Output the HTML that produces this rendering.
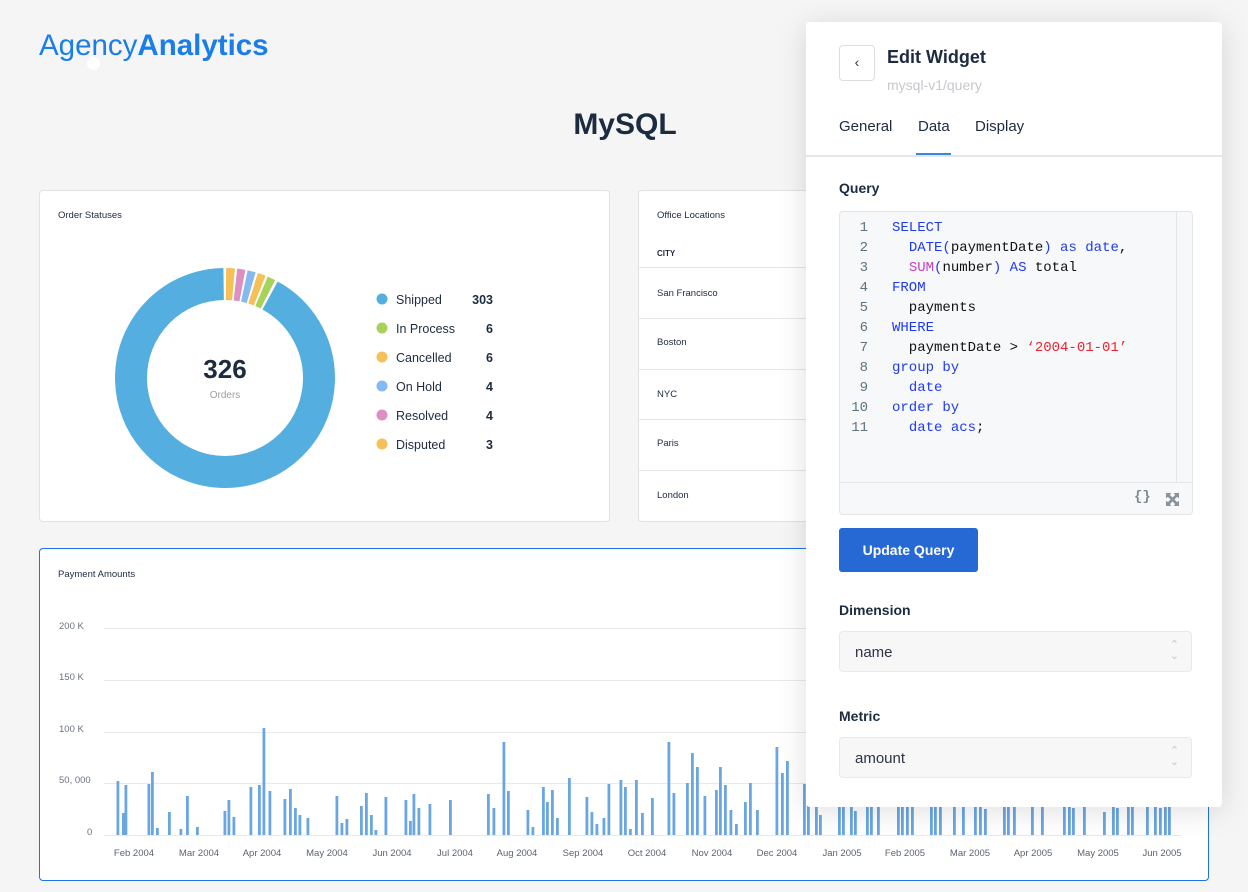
<!DOCTYPE html>
<html><head><meta charset="utf-8"><style>
*{margin:0;padding:0;box-sizing:border-box}
body{width:1248px;height:892px;background:#f5f5f6;font-family:"Liberation Sans",sans-serif;color:#1c2b3f;position:relative;overflow:hidden}
.abs{position:absolute}
.card{position:absolute;background:#fff;border:1px solid #dfe1e4;border-radius:4px}
.ct{position:absolute;font-size:9.5px;color:#1c2b3f}
.row{position:absolute;left:0;right:0;border-top:1px solid #e3e5e8}
.city{position:absolute;left:18px;font-size:9.5px}
.panel{position:absolute;left:806px;top:22px;width:416px;height:785px;background:#fff;border-radius:4px;box-shadow:0 4px 30px rgba(0,0,0,.13)}
.code{font-family:"Liberation Mono",monospace;font-size:14px;position:absolute;white-space:pre;line-height:20px}
.kw{color:#1f3bf0}.fn{color:#c33fc3}.st{color:#ee2230}
.lbl{position:absolute;left:33px;font-size:14px;font-weight:bold}
.sel{position:absolute;left:33px;width:353px;height:41px;background:#f7f7f8;border:1px solid #e8e9eb;border-radius:4px;font-size:15px;color:#2a3445;padding:12px 0 0 15px}
.arr{position:absolute;right:12px;top:8px;color:#c4c7cb;font-size:11px;line-height:11px;text-align:center}
</style></head><body>
<div class="abs" style="left:39px;top:29px;font-size:29.5px;color:#1a7ee8;letter-spacing:0"><span style="font-weight:300">Agency</span><b>Analytics</b></div>
<div class="abs" style="left:87px;top:57px;width:13px;height:13px;border-radius:50%;background:#fff"></div>
<div class="abs" style="left:540px;top:108px;width:170px;text-align:center;font-size:30px;font-weight:bold">MySQL</div>

<div class="card" style="left:39px;top:190px;width:571px;height:332px">
<div class="ct" style="left:18px;top:19px">Order Statuses</div>
</div>
<svg class="abs" style="left:0;top:0" width="620" height="540">
<g transform="rotate(-90 225 378)" fill="none" stroke-width="32">
<circle cx="225" cy="378" r="94" stroke="#55aee0" stroke-dasharray="542 60" stroke-dashoffset="-47"/>
<circle cx="225" cy="378" r="94" stroke="#f5c058" stroke-dasharray="7.5 600" stroke-dashoffset="-1"/>
<circle cx="225" cy="378" r="94" stroke="#dd8fc0" stroke-dasharray="7 600" stroke-dashoffset="-10.5"/>
<circle cx="225" cy="378" r="94" stroke="#85b9f2" stroke-dasharray="7 600" stroke-dashoffset="-19.5"/>
<circle cx="225" cy="378" r="94" stroke="#f5c058" stroke-dasharray="7 600" stroke-dashoffset="-28.5"/>
<circle cx="225" cy="378" r="94" stroke="#a9d25a" stroke-dasharray="7 600" stroke-dashoffset="-37.5"/>
</g>
<text x="225" y="378" text-anchor="middle" font-size="26" font-weight="bold" fill="#1c2b3f" font-family="Liberation Sans">326</text>
<text x="225" y="398" text-anchor="middle" font-size="10" fill="#9aa0a7" font-family="Liberation Sans">Orders</text>
<g font-family="Liberation Sans" font-size="12.5" fill="#1c2b3f">
<circle cx="382" cy="299" r="5.5" fill="#55aee0"/><text x="396" y="304">Shipped</text><text x="493" y="304" text-anchor="end" font-weight="bold">303</text>
<circle cx="382" cy="328" r="5.5" fill="#a9d25a"/><text x="396" y="333">In Process</text><text x="493" y="333" text-anchor="end" font-weight="bold">6</text>
<circle cx="382" cy="357" r="5.5" fill="#f5c058"/><text x="396" y="362">Cancelled</text><text x="493" y="362" text-anchor="end" font-weight="bold">6</text>
<circle cx="382" cy="386" r="5.5" fill="#85b9f2"/><text x="396" y="391">On Hold</text><text x="493" y="391" text-anchor="end" font-weight="bold">4</text>
<circle cx="382" cy="415" r="5.5" fill="#dd8fc0"/><text x="396" y="420">Resolved</text><text x="493" y="420" text-anchor="end" font-weight="bold">4</text>
<circle cx="382" cy="444" r="5.5" fill="#f5c058"/><text x="396" y="449">Disputed</text><text x="493" y="449" text-anchor="end" font-weight="bold">3</text>
</g></svg>

<div class="card" style="left:638px;top:190px;width:300px;height:332px">
<div class="ct" style="left:18px;top:19px">Office Locations</div>
<div class="ct" style="left:18px;top:58px;font-size:8px;font-weight:bold">CITY</div>
<div class="row" style="top:76px"></div>
<div class="city" style="top:97px">San Francisco</div>
<div class="row" style="top:127px"></div>
<div class="city" style="top:146px">Boston</div>
<div class="row" style="top:178px"></div>
<div class="city" style="top:198px">NYC</div>
<div class="row" style="top:228px"></div>
<div class="city" style="top:247px">Paris</div>
<div class="row" style="top:279px"></div>
<div class="city" style="top:299px">London</div>
</div>

<div class="card" style="left:39px;top:548px;width:1170px;height:333px;border:1.5px solid #1a73e8">
<div class="ct" style="left:18px;top:20px">Payment Amounts</div>
</div>
<svg class="abs" style="left:0;top:0" width="1248" height="892" font-family="Liberation Sans">
<g stroke="#e8e9eb" stroke-width="1">
<line x1="104" x2="1181" y1="628.5" y2="628.5"/><line x1="104" x2="1181" y1="680.5" y2="680.5"/><line x1="104" x2="1181" y1="732.5" y2="732.5"/><line x1="104" x2="1181" y1="783.5" y2="783.5"/><line x1="104" x2="1181" y1="835.5" y2="835.5"/>
</g>
<g font-size="9.5" fill="#6b7280">
<text x="59" y="629">200 K</text><text x="59" y="680">150 K</text><text x="59" y="732">100 K</text><text x="59" y="783">50, 000</text><text x="87" y="835">0</text>
</g>
<g font-size="9.5" fill="#5b6470" text-anchor="middle">
<text x="134" y="856">Feb 2004</text><text x="199" y="856">Mar 2004</text><text x="262" y="856">Apr 2004</text><text x="327" y="856">May 2004</text><text x="392" y="856">Jun 2004</text><text x="455" y="856">Jul 2004</text><text x="517" y="856">Aug 2004</text><text x="583" y="856">Sep 2004</text><text x="647" y="856">Oct 2004</text><text x="712" y="856">Nov 2004</text><text x="777" y="856">Dec 2004</text><text x="842" y="856">Jan 2005</text><text x="905" y="856">Feb 2005</text><text x="970" y="856">Mar 2005</text><text x="1033" y="856">Apr 2005</text><text x="1098" y="856">May 2005</text><text x="1162" y="856">Jun 2005</text>
</g>
<g fill="#6aa6e3">
<rect x="116.5" y="781" width="2.8" height="54"/><rect x="122" y="813" width="2.8" height="22"/><rect x="124.5" y="785" width="2.8" height="50"/><rect x="147.5" y="784" width="2.8" height="51"/><rect x="151" y="772" width="2.8" height="63"/><rect x="156" y="828" width="2.8" height="7"/><rect x="168" y="812" width="2.8" height="23"/><rect x="179.5" y="829" width="2.8" height="6"/><rect x="186" y="796" width="2.8" height="39"/><rect x="196" y="827" width="2.8" height="8"/><rect x="223.5" y="811" width="2.8" height="24"/><rect x="227.5" y="800" width="2.8" height="35"/><rect x="232.5" y="817" width="2.8" height="18"/><rect x="249.5" y="787" width="2.8" height="48"/><rect x="258" y="785" width="2.8" height="50"/><rect x="262.5" y="728" width="2.8" height="107"/><rect x="268.5" y="791" width="2.8" height="44"/><rect x="283.5" y="799" width="2.8" height="36"/><rect x="289" y="789" width="2.8" height="46"/><rect x="294" y="808" width="2.8" height="27"/><rect x="298.5" y="815" width="2.8" height="20"/><rect x="306.5" y="818" width="2.8" height="17"/><rect x="335.5" y="796" width="2.8" height="39"/><rect x="340.5" y="823" width="2.8" height="12"/><rect x="345.5" y="819" width="2.8" height="16"/><rect x="360" y="806" width="2.8" height="29"/><rect x="365" y="793" width="2.8" height="42"/><rect x="370" y="815" width="2.8" height="20"/><rect x="374.5" y="830" width="2.8" height="5"/><rect x="384.5" y="797" width="2.8" height="38"/><rect x="404.5" y="800" width="2.8" height="35"/><rect x="409" y="821" width="2.8" height="14"/><rect x="412.5" y="794" width="2.8" height="41"/><rect x="417.5" y="808" width="2.8" height="27"/><rect x="428.5" y="804" width="2.8" height="31"/><rect x="449" y="800" width="2.8" height="35"/><rect x="487" y="794" width="2.8" height="41"/><rect x="492.5" y="808" width="2.8" height="27"/><rect x="502.5" y="742" width="2.8" height="93"/><rect x="507" y="791" width="2.8" height="44"/><rect x="526.5" y="810" width="2.8" height="25"/><rect x="531.5" y="827" width="2.8" height="8"/><rect x="542" y="787" width="2.8" height="48"/><rect x="546" y="802" width="2.8" height="33"/><rect x="551" y="790" width="2.8" height="45"/><rect x="556" y="818" width="2.8" height="17"/><rect x="568" y="778" width="2.8" height="57"/><rect x="585.5" y="797" width="2.8" height="38"/><rect x="590.5" y="812" width="2.8" height="23"/><rect x="595.5" y="824" width="2.8" height="11"/><rect x="602.5" y="818" width="2.8" height="17"/><rect x="607.5" y="784" width="2.8" height="51"/><rect x="619.5" y="780" width="2.8" height="55"/><rect x="624" y="787" width="2.8" height="48"/><rect x="629" y="829" width="2.8" height="6"/><rect x="635" y="780" width="2.8" height="55"/><rect x="641" y="813" width="2.8" height="22"/><rect x="651" y="798" width="2.8" height="37"/><rect x="667.5" y="742" width="2.8" height="93"/><rect x="672.5" y="793" width="2.8" height="42"/><rect x="686" y="783" width="2.8" height="52"/><rect x="691" y="753" width="2.8" height="82"/><rect x="696" y="767" width="2.8" height="68"/><rect x="703.5" y="796" width="2.8" height="39"/><rect x="715" y="790" width="2.8" height="45"/><rect x="719" y="767" width="2.8" height="68"/><rect x="724" y="785" width="2.8" height="50"/><rect x="729.5" y="810" width="2.8" height="25"/><rect x="735" y="824" width="2.8" height="11"/><rect x="744" y="802" width="2.8" height="33"/><rect x="749" y="783" width="2.8" height="52"/><rect x="756" y="810" width="2.8" height="25"/><rect x="775.5" y="747" width="2.8" height="88"/><rect x="781" y="773" width="2.8" height="62"/><rect x="786" y="761" width="2.8" height="74"/>
<rect x="803" y="784" width="2.8" height="51"/><rect x="807" y="790" width="2.8" height="45"/><rect x="815" y="790" width="2.8" height="45"/><rect x="819" y="815" width="2.8" height="20"/><rect x="838" y="790" width="2.8" height="45"/><rect x="842" y="790" width="2.8" height="45"/><rect x="850" y="790" width="2.8" height="45"/><rect x="854" y="811" width="2.8" height="24"/><rect x="866" y="790" width="2.8" height="45"/><rect x="870" y="790" width="2.8" height="45"/><rect x="877" y="790" width="2.8" height="45"/><rect x="897" y="790" width="2.8" height="45"/><rect x="901" y="790" width="2.8" height="45"/><rect x="906" y="790" width="2.8" height="45"/><rect x="911" y="790" width="2.8" height="45"/><rect x="930" y="790" width="2.8" height="45"/><rect x="934" y="790" width="2.8" height="45"/><rect x="939" y="790" width="2.8" height="45"/><rect x="953" y="790" width="2.8" height="45"/><rect x="962" y="790" width="2.8" height="45"/><rect x="974" y="790" width="2.8" height="45"/><rect x="979" y="790" width="2.8" height="45"/><rect x="984" y="809" width="2.8" height="26"/><rect x="1003" y="790" width="2.8" height="45"/><rect x="1007" y="790" width="2.8" height="45"/><rect x="1013" y="790" width="2.8" height="45"/><rect x="1031" y="790" width="2.8" height="45"/><rect x="1041" y="790" width="2.8" height="45"/><rect x="1063" y="790" width="2.8" height="45"/><rect x="1068" y="790" width="2.8" height="45"/><rect x="1072" y="808" width="2.8" height="27"/><rect x="1083" y="790" width="2.8" height="45"/><rect x="1103" y="812" width="2.8" height="23"/><rect x="1112" y="790" width="2.8" height="45"/><rect x="1116" y="808" width="2.8" height="27"/><rect x="1127" y="790" width="2.8" height="45"/><rect x="1131" y="790" width="2.8" height="45"/><rect x="1146" y="790" width="2.8" height="45"/><rect x="1154" y="790" width="2.8" height="45"/><rect x="1159" y="808" width="2.8" height="27"/><rect x="1164" y="790" width="2.8" height="45"/><rect x="1168" y="790" width="2.8" height="45"/>
</g></svg>

<div class="panel">
<div class="abs" style="left:33px;top:23px;width:36px;height:36px;border:1px solid #dcdee2;border-radius:4px;text-align:center;line-height:33px;font-size:14px;color:#333">&#8249;</div>
<div class="abs" style="left:81px;top:25px;font-size:18px;font-weight:bold">Edit Widget</div>
<div class="abs" style="left:81px;top:55px;font-size:14px;color:#c5c8cc">mysql-v1/query</div>
<div class="abs" style="left:33px;top:96px;font-size:15px">General</div>
<div class="abs" style="left:112px;top:96px;font-size:15px">Data</div>
<div class="abs" style="left:169px;top:96px;font-size:15px">Display</div>
<div class="abs" style="left:110px;top:131px;width:35px;height:2px;background:#3b86e0"></div>
<div class="abs" style="left:0;top:133px;width:416px;height:2px;background:#e4e6e9"></div>
<div class="abs" style="left:33px;top:158px;font-size:14px;font-weight:bold">Query</div>
<div class="abs" style="left:33px;top:189px;width:354px;height:304px;background:#f7f8f9;border:1px solid #e3e5e8;border-radius:4px">
<div class="abs" style="left:336px;top:0;width:1px;height:270px;background:#e3e5e8"></div>
<div class="abs" style="left:0;top:270px;width:352px;height:1px;background:#e3e5e8"></div>
<div class="code" style="left:0;top:6px;width:28px;text-align:right;color:#5d7380">1
2
3
4
5
6
7
8
9
10
11</div>
<div class="code" style="left:52px;top:6px;color:#111"><span class="kw">SELECT</span>
  <span class="kw">DATE(</span>paymentDate<span class="kw">) as date</span>,
  <span class="fn">SUM</span><span class="kw">(</span>number<span class="kw">) AS</span> total
<span class="kw">FROM</span>
  payments
<span class="kw">WHERE</span>
  paymentDate &gt; <span class="st">‘2004-01-01’</span>
<span class="kw">group by</span>
  <span class="kw">date</span>
<span class="kw">order by</span>
  <span class="kw">date acs</span>;</div>
<div class="abs" style="left:294px;top:277px;font-size:14px;color:#7c8790;font-weight:bold;font-family:'Liberation Mono',monospace">{}</div>
<div class="abs" style="left:326px;top:281px;width:13px;height:13px;background:#8a939b;clip-path:polygon(0 0,40% 0,30% 15%,50% 35%,70% 15%,60% 0,100% 0,100% 40%,85% 30%,65% 50%,85% 70%,100% 60%,100% 100%,60% 100%,70% 85%,50% 65%,30% 85%,40% 100%,0 100%,0 60%,15% 70%,35% 50%,15% 30%,0 40%)"></div>
</div>
<div class="abs" style="left:33px;top:506px;width:139px;height:44px;background:#2668d4;border-radius:3px;color:#fff;font-size:14px;font-weight:bold;text-align:center;line-height:44px">Update Query</div>
<div class="lbl" style="top:580px">Dimension</div>
<div class="sel" style="top:609px">name<div class="arr">&#8963;<br>&#8964;</div></div>
<div class="lbl" style="top:686px">Metric</div>
<div class="sel" style="top:715px">amount<div class="arr">&#8963;<br>&#8964;</div></div>
</div>
</body></html>
